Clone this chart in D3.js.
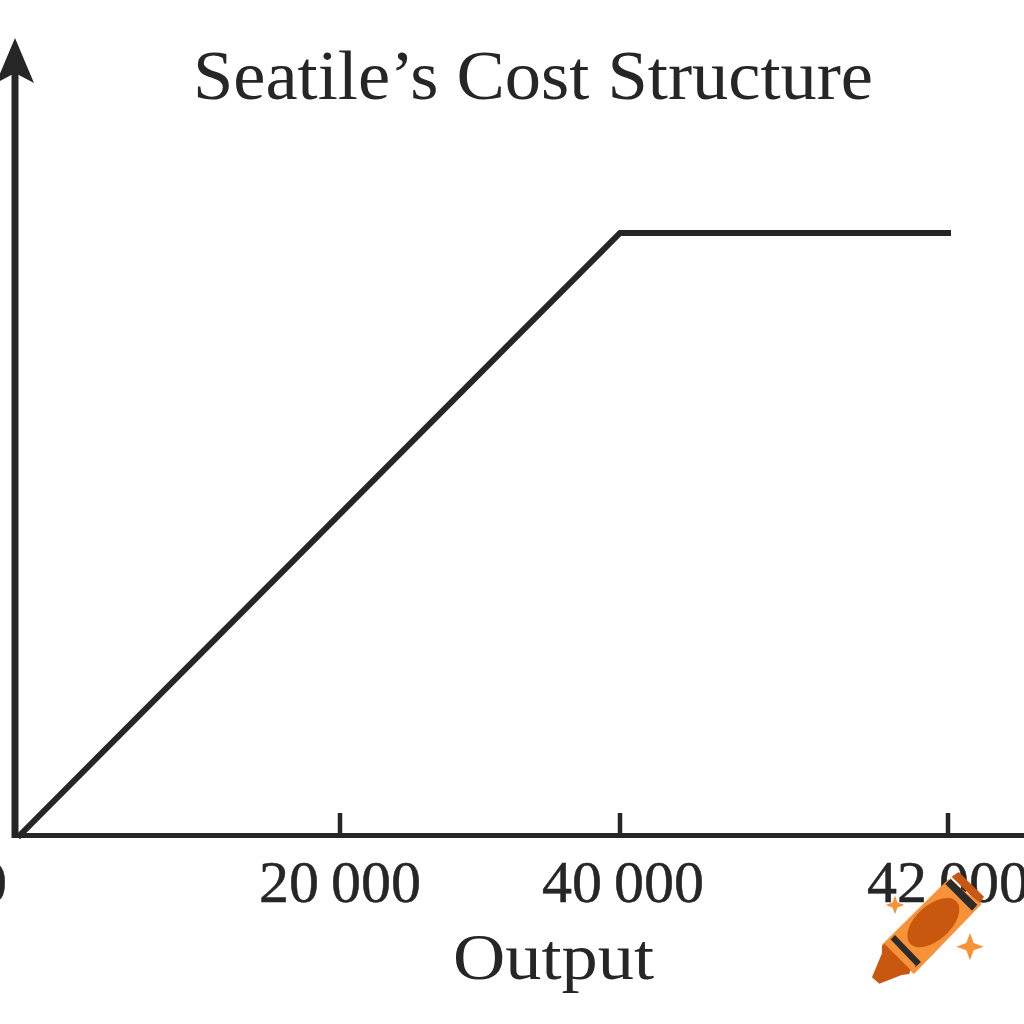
<!DOCTYPE html>
<html><head><meta charset="utf-8">
<script src="https://cdn.jsdelivr.net/npm/d3@7"></script>
<style>html,body{margin:0;padding:0;background:#fff;overflow:hidden}</style></head>
<body><svg id="c" width="1024" height="1024"></svg>
<script>
const tickPositions = [0, 1, 2, 3];
const tickLabels = ["0", "20\u2009000", "40\u2009000", "42\u2009000"];
const lineCategory = [0, 2, 3];
const lineValues = [0, 1, 1];
const titleText = "Seatile\u2019s Cost Structure";
const xLabel = "Output";
const svg = d3.select("#c");
const ink = "#262626";
const font = "'Liberation Serif','DejaVu Serif',serif";
const x = d3.scaleLinear().domain([0,1,2,3]).range([20,340,620,948]);
const y = d3.scaleLinear().domain([0,1]).range([835,233]);

svg.append("text").attr("x",533).attr("y",99).attr("text-anchor","middle")
  .attr("font-family",font).attr("font-size",70).attr("fill",ink)
  .attr("textLength",680).attr("lengthAdjust","spacingAndGlyphs").text(titleText);

svg.append("line").attr("x1",15).attr("x2",15).attr("y1",838).attr("y2",70).attr("stroke",ink).attr("stroke-width",7);
svg.append("path").attr("d",d3.line()([[15,38],[34,83],[15,73],[-4,83]])+"Z").attr("fill",ink);
svg.append("line").attr("x1",12).attr("x2",1024).attr("y1",835.5).attr("y2",835.5).attr("stroke",ink).attr("stroke-width",5);
svg.selectAll(".t").data(tickPositions.slice(1)).enter().append("line")
  .attr("x1",d=>x(d)).attr("x2",d=>x(d)).attr("y1",813).attr("y2",835).attr("stroke",ink).attr("stroke-width",4.5);
svg.selectAll(".l").data(tickPositions).enter().append("text")
  .attr("x",d=>d===0?-8:x(d)+(d===2?3:0)).attr("y",902).attr("text-anchor","middle")
  .attr("font-family",font).attr("font-size",60).attr("fill",ink)
  .attr("stroke",ink).attr("stroke-width",0.5).text(d=>tickLabels[d]);
svg.append("text").attr("x",553.5).attr("y",979).attr("text-anchor","middle")
  .attr("font-family",font).attr("font-size",66).attr("fill",ink)
  .attr("textLength",201).attr("lengthAdjust","spacingAndGlyphs").text(xLabel);
svg.append("path").datum(lineCategory.map((c,i)=>[c,lineValues[i]]))
  .attr("d",d3.line().x(d=>x(d[0])).y(d=>y(d[1]))).attr("fill","none").attr("stroke",ink)
  .attr("stroke-width",6).attr("stroke-linecap","square");

// crayon badge (drawn in the 3x zoom frame of the corner)
const badge = svg.append("g").attr("transform","translate(840,780) scale(0.3333)");
const poly = (pts,fill)=>badge.append("polygon").attr("points",pts.map(p=>p.join(",")).join(" ")).attr("fill",fill);
poly([[335,290],[356,276],[432,350],[418,372]],"#C8570F");
poly([[125,495],[325,298],[425,372],[222,582]],"#F79238");
poly([[316,312],[332,296],[412,374],[396,392]],"#2B2B2B");
poly([[148,482],[165,465],[243,546],[226,562]],"#2B2B2B");
poly([[126,498],[136,490],[212,566],[208,582],[185,585],[118,611],[96,592],[126,520]],"#C8570F");
poly([[134,492],[150,476],[228,558],[212,570]],"#F79238");
badge.append("ellipse").attr("cx",280).attr("cy",428).attr("rx",94).attr("ry",52)
  .attr("transform","rotate(-42 280 428)").attr("fill","#C8570F");
const spark = (cx,cy,r)=>{const k=r*0.27;
  badge.append("polygon").attr("fill","#F79238").attr("points",
  [[cx,cy-r],[cx+k,cy-k],[cx+r,cy],[cx+k,cy+k],[cx,cy+r],[cx-k,cy+k],[cx-r,cy],[cx-k,cy-k]].map(p=>p.join(",")).join(" "));};
spark(165,375,28); spark(390,500,41);
</script></body></html>
